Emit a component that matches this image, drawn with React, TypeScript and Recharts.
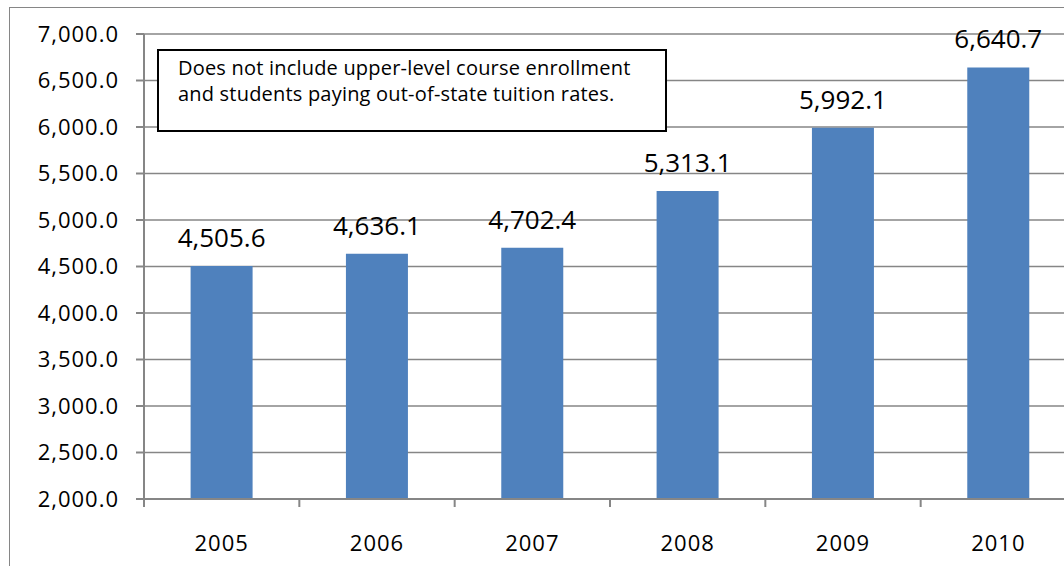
import { BarChart, Bar, XAxis, YAxis, CartesianGrid, LabelList } from "recharts";

const years = ["2005", "2006", "2007", "2008", "2009", "2010"];
const enrollment = [4505.6, 4636.1, 4702.4, 5313.1, 5992.1, 6640.7];
const yTicks = [2000, 2500, 3000, 3500, 4000, 4500, 5000, 5500, 6000, 6500, 7000];

const chartData = years.map((year, i) => ({ year, value: enrollment[i] }));

const fmt = (v: number) =>
  v.toLocaleString("en-US", { minimumFractionDigits: 1, maximumFractionDigits: 1 });

const axisGray = "#868686";
const font = "'Open Sans', sans-serif";
const tickText = { fill: "#000", fontSize: 22, fontFamily: font, letterSpacing: 1 };

// year label at the band centre, tick mark on the band's left edge (Excel style)
function YearTick(props: any) {
  const { x, y, payload } = props;
  const half = payload?.offset ?? 0;
  return (
    <g>
      <line x1={x - half} x2={x - half} y1={y} y2={y + 8} stroke={axisGray} strokeWidth={2} />
      <text
        x={x}
        y={y + 36}
        dy="0.71em"
        textAnchor="middle"
        fill="#000"
        fontSize={22}
        fontFamily={font}
        letterSpacing={1}
      >
        {payload.value}
      </text>
    </g>
  );
}

export default function App() {
  return (
    <div
      style={{
        position: "absolute",
        left: 9,
        top: 7,
        width: 1100,
        height: 600,
        border: `1px solid ${axisGray}`,
        fontFamily: font,
      }}
    >
      <BarChart
        width={1100}
        height={600}
        data={chartData}
        margin={{ top: 26, right: 34, bottom: 79, left: 0 }}
        barCategoryGap="30%"
      >
        <CartesianGrid vertical={false} stroke={axisGray} strokeWidth={1.5} />
        <XAxis
          dataKey="year"
          height={30}
          tickLine={false}
          tickSize={0}
          tickMargin={0}
          stroke={axisGray}
          axisLine={{ stroke: axisGray, strokeWidth: 2 }}
          tick={<YearTick />}
        />
        <YAxis
          width={134}
          domain={[2000, 7000]}
          ticks={yTicks}
          tickFormatter={fmt}
          tickSize={8}
          tickMargin={17}
          stroke={axisGray}
          axisLine={{ stroke: axisGray, strokeWidth: 2 }}
          tickLine={{ stroke: axisGray, strokeWidth: 2 }}
          tick={tickText}
        />
        <Bar dataKey="value" fill="#4F81BD" isAnimationActive={false}>
          <LabelList
            dataKey="value"
            position="top"
            offset={19}
            formatter={(v: any) => fmt(Number(v))}
            style={{ fill: "#000", fontSize: 26, fontFamily: font }}
          />
        </Bar>
      </BarChart>
      <div
        style={{
          position: "absolute",
          left: 147,
          top: 41,
          width: 510,
          height: 83,
          border: "2px solid #000",
          background: "#fff",
          fontSize: 20,
          lineHeight: "26px",
          letterSpacing: 0.2,
          padding: "4px 0 0 19px",
          boxSizing: "border-box",
          color: "#000",
          whiteSpace: "nowrap",
        }}
      >
        Does not include upper-level course enrollment
        <br />
        and students paying out-of-state tuition rates.
      </div>
    </div>
  );
}
